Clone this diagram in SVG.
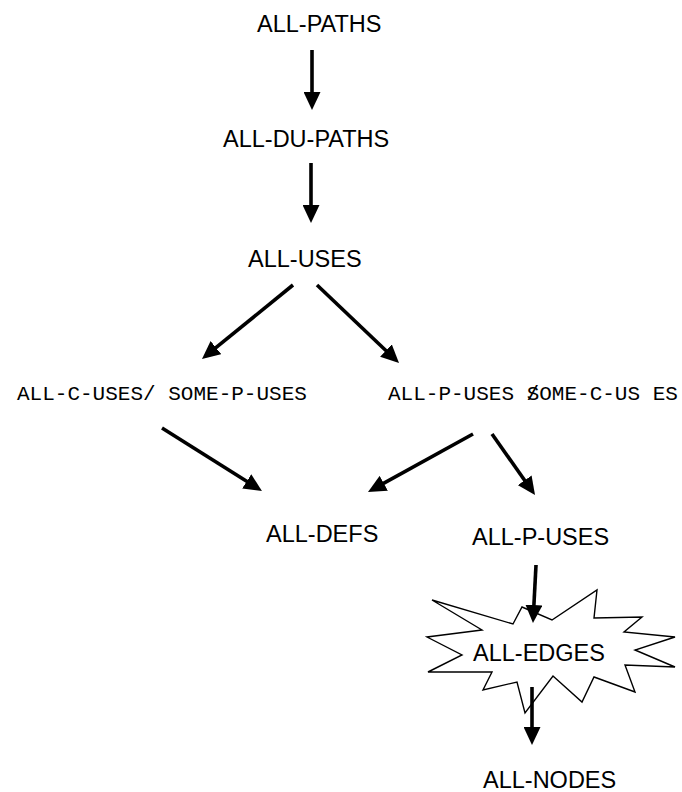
<svg xmlns="http://www.w3.org/2000/svg" width="682" height="792" viewBox="0 0 682 792">
<style>
.lbl{font-family:"Liberation Sans",Arial,sans-serif;font-size:23.5px;fill:#000}
.mono{font-family:"Liberation Mono","Courier New",monospace;font-size:21px;fill:#000}
.edge{stroke:#000;stroke-width:3.6;fill:none;marker-end:url(#ah)}
.star{fill:#fff;stroke:#000;stroke-width:1.4;stroke-linejoin:miter}
</style>
<defs>
<marker id="ah" markerUnits="userSpaceOnUse" markerWidth="18" markerHeight="17" refX="6" refY="8.5" orient="auto">
<path d="M0,0 L18,8.5 L0,17 z" fill="#000"/>
</marker>
</defs>
<rect width="682" height="792" fill="#fff"/>
<g id="all-paths"><text class="lbl" x="257" y="32">ALL-PATHS</text></g>
<g id="all-du-paths"><text class="lbl" x="223" y="147">ALL-DU-PATHS</text></g>
<g id="all-uses"><text class="lbl" x="248" y="267">ALL-USES</text></g>
<g id="all-c-uses-some-p-uses"><text class="mono" x="17" y="400">ALL-C-USES/ SOME-P-USES</text></g>
<g id="all-p-uses-some-c-uses"><text class="mono" x="388" y="400">ALL-P-USES /<tspan dx="-12.6">SOME-C-US ES</tspan></text></g>
<g id="all-defs"><text class="lbl" x="266" y="542">ALL-DEFS</text></g>
<g id="all-p-uses"><text class="lbl" x="472" y="545">ALL-P-USES</text></g>
<g id="all-edges">
<polygon class="star" points="432,600 513,624 522,607 552,620 597,590 594,618 642,617 624,632 675,637 635,650 675,667 625,665 635,692 594,677 582,702 553,676 525,713 517,682 483,690 492,672 428,672 462,655 427,637 482,630"/>
<text class="lbl" x="473" y="661">ALL-EDGES</text>
</g>
<g id="all-nodes"><text class="lbl" x="483" y="788">ALL-NODES</text></g>
<g id="connectors">
<line class="edge" x1="312" y1="50" x2="312" y2="98"/>
<line class="edge" x1="311" y1="163" x2="311" y2="211"/>
<line class="edge" x1="293" y1="285" x2="211.3" y2="351.4"/>
<line class="edge" x1="317" y1="285" x2="390.3" y2="354.7"/>
<line class="edge" x1="162" y1="428" x2="251.8" y2="484.6"/>
<line class="edge" x1="473" y1="434" x2="378.5" y2="486.2"/>
<line class="edge" x1="492" y1="434" x2="528.1" y2="485.2"/>
<line class="edge" x1="536" y1="565" x2="533.6" y2="611"/>
<line class="edge" x1="532" y1="687" x2="532" y2="733"/>
</g>
</svg>
